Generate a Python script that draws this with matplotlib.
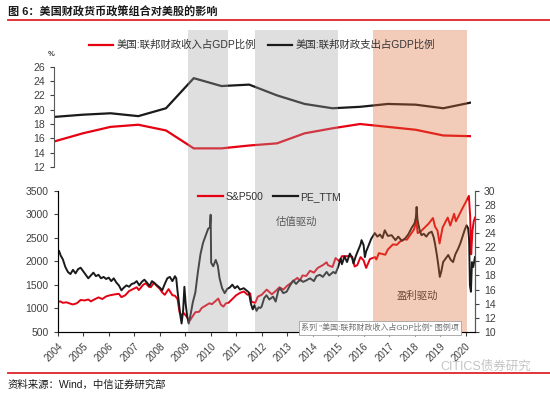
import numpy as np
import matplotlib
matplotlib.use("Agg")
import matplotlib.pyplot as plt
from matplotlib.lines import Line2D
from matplotlib.patches import Rectangle
from matplotlib.transforms import blended_transform_factory

plt.rcParams['font.family'] = ['Liberation Sans', 'Noto Sans CJK SC']
plt.rcParams['axes.unicode_minus'] = False

# 上图：联邦财政收入/支出占GDP比例 (%)
fy = list(range(2004, 2020))
receipts = [15.6, 16.7, 17.6, 17.9, 17.1, 14.6, 14.6, 15.0, 15.3, 16.7,
            17.4, 18.0, 17.6, 17.2, 16.4, 16.3]
outlays = [19.0, 19.3, 19.5, 19.1, 20.2, 24.4, 23.3, 23.5, 22.0, 20.8,
           20.2, 20.4, 20.8, 20.7, 20.2, 21.0]

# 下图：S&P500 (左轴)
sp_t = [2004.00, 2004.10, 2004.20, 2004.35, 2004.50, 2004.60, 2004.75, 2004.90,
        2005.05, 2005.20, 2005.30, 2005.45, 2005.60, 2005.75, 2005.90,
        2006.05, 2006.25, 2006.40, 2006.50, 2006.65, 2006.80, 2006.95,
        2007.10, 2007.18, 2007.35, 2007.45, 2007.58, 2007.65, 2007.78, 2007.88,
        2008.00, 2008.10, 2008.20, 2008.35, 2008.50, 2008.60, 2008.70, 2008.78,
        2008.85, 2008.95, 2009.05, 2009.18, 2009.25, 2009.40, 2009.55, 2009.65,
        2009.80, 2009.95, 2010.05, 2010.30, 2010.40, 2010.50, 2010.60, 2010.70,
        2010.85, 2011.00, 2011.15, 2011.30, 2011.45, 2011.55, 2011.60, 2011.75,
        2011.85, 2012.00, 2012.20, 2012.40, 2012.55, 2012.70, 2012.85,
        2013.00, 2013.20, 2013.40, 2013.50, 2013.60, 2013.75, 2013.90,
        2014.05, 2014.20, 2014.40, 2014.55, 2014.60, 2014.78, 2014.90,
        2015.05, 2015.15, 2015.40, 2015.55, 2015.65, 2015.75, 2015.88,
        2016.00, 2016.10, 2016.25, 2016.45, 2016.50, 2016.60, 2016.85, 2016.95,
        2017.15, 2017.30, 2017.45, 2017.60, 2017.70, 2017.85, 2017.98,
        2018.07, 2018.12, 2018.25, 2018.40, 2018.55, 2018.72, 2018.80, 2018.90,
        2018.98, 2019.10, 2019.30, 2019.40, 2019.55, 2019.62, 2019.75, 2019.90,
        2020.00, 2020.13, 2020.18, 2020.22, 2020.27, 2020.32, 2020.37]
sp_v = [1140, 1150, 1120, 1130, 1100, 1085, 1110, 1180,
        1170, 1190, 1150, 1195, 1235, 1200, 1255,
        1280, 1300, 1310, 1240, 1280, 1370, 1410,
        1450, 1390, 1500, 1535, 1460, 1450, 1550, 1480,
        1420, 1340, 1290, 1410, 1280, 1270, 1200, 920,
        850, 900, 830, 740, 800, 920, 930, 1010,
        1060, 1110, 1090, 1210, 1080, 1040, 1110, 1120,
        1200, 1280, 1330, 1360, 1290, 1320, 1140, 1120,
        1250, 1290, 1400, 1300, 1370, 1450, 1400,
        1480, 1560, 1650, 1590, 1700, 1690, 1800,
        1760, 1860, 1920, 1980, 1920, 1880, 2070,
        2000, 2110, 2110, 2100, 1890, 1920, 2090,
        2020, 1860, 2050, 2090, 2040, 2175, 2140, 2250,
        2360, 2350, 2430, 2470, 2460, 2580, 2680,
        2860, 2600, 2640, 2720, 2800, 2920, 2740, 2650,
        2380, 2720, 2930, 2760, 3010, 2850, 2990, 3150,
        3250, 3390, 2950, 2150, 2650, 2850, 2930]

# 下图：PE_TTM (右轴)
pe_t = [2004.00, 2004.05, 2004.12, 2004.20, 2004.30, 2004.40, 2004.50, 2004.60,
        2004.70, 2004.80, 2004.90, 2005.00, 2005.10, 2005.20, 2005.30, 2005.40,
        2005.50, 2005.60, 2005.70, 2005.80, 2005.90, 2006.00, 2006.10, 2006.20,
        2006.30, 2006.40, 2006.50, 2006.60, 2006.70, 2006.80, 2006.90, 2007.00,
        2007.10, 2007.20, 2007.30, 2007.40, 2007.50, 2007.60, 2007.70, 2007.80,
        2007.90, 2008.00, 2008.10, 2008.20, 2008.30, 2008.40, 2008.50, 2008.60,
        2008.65, 2008.70, 2008.75, 2008.80, 2008.86, 2008.92, 2008.97, 2009.02,
        2009.08, 2009.14, 2009.22, 2009.30, 2009.40, 2009.50, 2009.60, 2009.70,
        2009.80, 2009.90, 2009.97, 2010.00, 2010.02, 2010.10, 2010.20, 2010.28,
        2010.35, 2010.45, 2010.55, 2010.65, 2010.75, 2010.85, 2010.95, 2011.05,
        2011.15, 2011.30, 2011.40, 2011.50, 2011.58, 2011.65, 2011.72, 2011.80,
        2011.88, 2011.95, 2012.00, 2012.10, 2012.19, 2012.30, 2012.45, 2012.55,
        2012.65, 2012.72, 2012.85, 2012.98, 2013.10, 2013.24, 2013.35, 2013.50,
        2013.63, 2013.75, 2013.90, 2014.05, 2014.15, 2014.28, 2014.40, 2014.55,
        2014.65, 2014.81, 2014.90, 2015.00, 2015.10, 2015.15, 2015.25, 2015.35,
        2015.46, 2015.55, 2015.60, 2015.70, 2015.79, 2015.88, 2015.92, 2016.00,
        2016.05, 2016.10, 2016.18, 2016.30, 2016.44, 2016.54, 2016.64, 2016.74,
        2016.83, 2016.95, 2017.10, 2017.25, 2017.36, 2017.50, 2017.62, 2017.75,
        2017.88, 2018.00, 2018.05, 2018.08, 2018.11, 2018.14, 2018.20, 2018.27,
        2018.36, 2018.46, 2018.56, 2018.67, 2018.75, 2018.80, 2018.87, 2018.93,
        2018.99, 2019.05, 2019.12, 2019.22, 2019.32, 2019.42, 2019.51, 2019.60,
        2019.71, 2019.80, 2019.90, 2019.97, 2020.04, 2020.10, 2020.14, 2020.17,
        2020.21, 2020.25, 2020.30, 2020.37]
pe_v = [21.2, 21.5, 20.8, 20.3, 19.2, 18.5, 18.2, 18.8,
        18.3, 18.9, 19.1, 18.6, 18.1, 17.6, 18.0, 18.4,
        17.9, 18.1, 17.6, 17.8, 17.5, 17.7, 17.2, 17.6,
        17.0, 16.6, 15.9, 16.3, 16.6, 16.4, 16.8, 16.9,
        17.2, 16.6, 17.1, 17.4, 17.0, 16.5, 17.2, 16.9,
        16.6, 16.3, 15.9, 16.8, 17.6, 17.8, 17.2, 17.9,
        17.6, 15.8, 14.3, 12.6, 11.2, 13.0, 16.4, 14.0,
        12.2, 11.2, 12.6, 14.2, 15.6, 18.5, 21.0, 22.6,
        23.6, 24.6, 24.8, 26.6, 19.8, 19.3, 20.2, 19.4,
        17.6, 16.2, 15.5, 16.1, 16.3, 16.7, 16.2, 16.5,
        16.0, 16.2, 15.9, 15.6, 14.0, 13.2, 13.8, 13.0,
        13.5, 13.4, 13.6, 14.8, 15.2, 14.6, 15.0, 14.3,
        15.8, 16.2, 15.5, 15.7, 16.5, 17.3, 16.8, 17.4,
        17.1, 17.3, 17.6, 17.2, 17.9, 18.1, 17.8, 18.5,
        18.0, 18.5, 18.3, 19.2, 20.4, 19.6, 20.7, 19.9,
        21.1, 20.5, 19.7, 20.8, 21.6, 22.4, 23.0, 22.3,
        20.6, 21.4, 22.1, 23.2, 24.0, 23.5, 23.8, 23.3,
        24.4, 23.6, 23.7, 23.0, 23.5, 22.9, 23.2, 23.8,
        24.7, 25.4, 26.2, 27.7, 26.0, 25.4, 24.4, 23.7,
        23.9, 23.5, 24.0, 24.2, 23.4, 22.5, 21.0, 19.5,
        17.8, 18.6, 19.9, 20.4, 20.9, 20.2, 19.9, 21.0,
        21.8, 22.6, 23.7, 24.5, 25.1, 24.7, 23.0, 16.6,
        15.7, 19.9, 19.2, 20.6]

years = list(range(2004, 2021))
# 阴影区间: 估值驱动(灰) / 盈利驱动(橙)
gray_spans = [(2009.1, 2010.67), (2011.74, 2014.98)]
orange_span = (2016.38, 2020.06)

red = '#e60012'
blk = '#1a1a1a'
txt = '#404040'

fig = plt.figure(figsize=(5.5, 3.94), dpi=100)
W, H = 550.0, 394.0

def fx(px):
    return px / W

def fy_(py):
    return 1 - py / H

# ---- 上图 ----
ax1 = fig.add_axes([fx(54), fy_(167), fx(471 - 54), (167 - 66.7) / H])
ax1.plot(range(len(fy)), receipts, color=red, lw=1.6)
ax1.plot(range(len(fy)), outlays, color=blk, lw=1.6)
ax1.set_xlim(-0.04, len(fy) - 1)
ax1.set_ylim(12, 26)
ax1.set_yticks(range(12, 27, 2))
ax1.set_xticks([])
for s in ['top', 'right', 'bottom']:
    ax1.spines[s].set_visible(False)
ax1.spines['left'].set_color('#595959')
ax1.tick_params(axis='y', labelsize=7.5, colors=txt, length=3, width=0.8)
ax1.patch.set_alpha(0)
fig.text(fx(51), fy_(55), '%', fontsize=5.5, color=txt, ha='center', va='center', fontweight='bold')

# ---- 下图 ----
ax2 = fig.add_axes([fx(57.7), fy_(332), fx(475 - 57.7), (332 - 190.7) / H])
ax2.plot(sp_t, sp_v, color=red, lw=1.4)
ax2.set_xlim(2004, 2020.37)
ax2.set_ylim(500, 3500)
ax2.set_yticks(range(500, 3501, 500))
ax2.set_xticks(years)
ax2.set_xticklabels([str(y) for y in years], rotation=45, ha='right', va='top',
                    rotation_mode='anchor')
ax2.tick_params(axis='both', labelsize=7, colors=txt, length=3, width=0.8)
ax2.tick_params(axis='y', labelsize=7.5)
ax2.spines['top'].set_visible(False)
for s in ['left', 'bottom', 'right']:
    ax2.spines[s].set_color('#595959')

ax3 = ax2.twinx()
ax3.plot(pe_t, pe_v, color=blk, lw=1.4)
ax3.set_ylim(10, 30)
ax3.set_yticks(range(10, 31, 2))
ax3.tick_params(axis='y', labelsize=7.5, colors=txt, length=3, width=0.8)
ax3.spines['top'].set_visible(False)
ax3.spines['right'].set_color('#595959')

# 图例
fig.legend([Line2D([], [], color=red, lw=1.6), Line2D([], [], color=blk, lw=1.6)],
           ['美国:联邦财政收入占GDP比例', '美国:联邦财政支出占GDP比例'],
           loc='center left', bbox_to_anchor=(fx(80), fy_(45)), ncol=2, frameon=False,
           fontsize=7.5, handlelength=2.3, handletextpad=0.3, columnspacing=1.2,
           labelcolor='#333333')
fig.legend([Line2D([], [], color=red, lw=1.6), Line2D([], [], color=blk, lw=1.6)],
           ['S&P500', 'PE_TTM'],
           loc='center left', bbox_to_anchor=(fx(189), fy_(197)), ncol=2, frameon=False,
           fontsize=7.5, handlelength=2.4, handletextpad=0.2, columnspacing=0.9,
           labelcolor='#333333')

fig.text(fx(297), fy_(222), '估值驱动', fontsize=7.5, color='#333333', ha='center', va='center')
fig.text(fx(417), fy_(296), '盈利驱动', fontsize=7.5, color='#333333', ha='center', va='center')

# 阴影（覆盖在曲线上方）
tr = blended_transform_factory(ax2.transData, fig.transFigure)
y0, y1 = fy_(332), fy_(30)
for a, b in gray_spans:
    fig.add_artist(Rectangle((a, y0), b - a, y1 - y0, transform=tr,
                             facecolor='#a3a3a3', alpha=0.34, edgecolor='none', zorder=5))
fig.add_artist(Rectangle((orange_span[0], y0), orange_span[1] - orange_span[0], y1 - y0,
                         transform=tr, facecolor='#db6e34', alpha=0.35,
                         edgecolor='none', zorder=5))

# 提示框
fig.text(fx(380), fy_(328), '系列 "美国:联邦财政收入占GDP比例" 图例项', fontsize=5.8,
         color='#707070', ha='center', va='center', zorder=6,
         bbox=dict(boxstyle='square,pad=0.3', facecolor='white', edgecolor='#a0a0a0', lw=0.6))

# 标题与来源
fig.text(fx(8), fy_(12.5), '图 6：美国财政货币政策组合对美股的影响', fontsize=8,
         fontweight='bold', va='center', color='#1a1a1a')
fig.add_artist(Line2D([fx(8), 1], [fy_(20), fy_(20)], color='#e0242a', lw=1.3))
fig.add_artist(Line2D([fx(8), 1], [fy_(373), fy_(373)], color='#e0242a', lw=1.3))
fig.text(fx(8), fy_(384.5), '资料来源：Wind，中信证券研究部', fontsize=7.5, va='center',
         color='#1a1a1a')
fig.text(fx(440), fy_(367), 'CITICS债券研究', fontsize=9, va='center', color='#c4c4c4', zorder=7)

fig.savefig('out.png', dpi=100)
